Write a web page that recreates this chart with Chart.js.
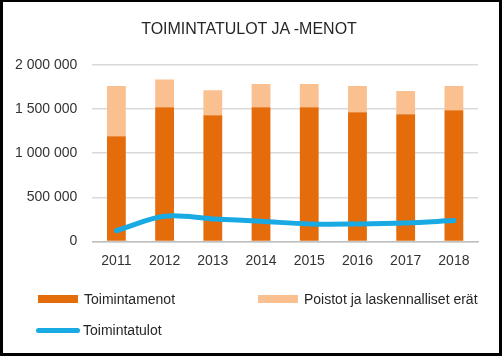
<!DOCTYPE html>
<html>
<head>
<meta charset="utf-8">
<script src="https://cdn.jsdelivr.net/npm/chart.js@4.4.1/dist/chart.umd.min.js"></script>
<style>
  html, body { margin: 0; padding: 0; background: #fff; }
  #wrap { position: relative; width: 502px; height: 356px; overflow: hidden; font-family: "Liberation Sans", Arial, sans-serif; }
  #c { position: absolute; left: 0; top: 0; }
  #frame { position: absolute; left: 0; top: 0; width: 502px; height: 356px; box-sizing: border-box;
           border-left: 3px solid #000; border-top: 2px solid #000; border-right: 3px solid #000; border-bottom: 3px solid #000; pointer-events: none; }
  #title { position: absolute; left: 149px; width: 200px; top: 20px; text-align: center; font-size: 16px; line-height: 18px; color: #262626; white-space: nowrap; display: flex; justify-content: center; }
  .lg { position: absolute; font-size: 14px; color: #262626; white-space: nowrap; line-height: 16px; }
  .sw { position: absolute; }
</style>
</head>
<body>
<div id="wrap">
  <canvas id="c" width="502" height="356"></canvas>
  <div id="title"></div>
  <div id="legend"></div>
  <div id="frame"></div>
</div>
<script>
const categories = ["2011", "2012", "2013", "2014", "2015", "2016", "2017", "2018"];
const toimintamenot = [1192000, 1522000, 1431000, 1522000, 1522000, 1465000, 1442000, 1488000];
const poistot = [569000, 315000, 284000, 262000, 262000, 296000, 262000, 273000];
const toimintatulot = [122000, 285000, 255000, 228000, 198000, 198000, 209000, 236000];
const yTicks = [0, 500000, 1000000, 1500000, 2000000];
const seriesNames = ["Toimintamenot", "Poistot ja laskennalliset erät", "Toimintatulot"];
const titleText = "TOIMINTATULOT JA -MENOT";

const colMenot = "#E46C0A";
const colPoistot = "#FAC090";
const colTulot = "#19A9E3";

document.getElementById("title").textContent = titleText;

function fmt(v) {
  return String(v).replace(/\B(?=(\d{3})+(?!\d))/g, " ");
}

const ctx = document.getElementById("c").getContext("2d");
new Chart(ctx, {
  data: {
    labels: categories,
    datasets: [
      { type: "line", label: seriesNames[2], data: toimintatulot, borderColor: colTulot, backgroundColor: colTulot,
        borderWidth: 5, pointRadius: 0, tension: 0.35, stack: "line", order: 0, borderCapStyle: "round", fill: false },
      { type: "bar", label: seriesNames[0], data: toimintamenot, backgroundColor: colMenot, stack: "bars", order: 1,
        barPercentage: 0.39, categoryPercentage: 1 },
      { type: "bar", label: seriesNames[1], data: poistot, backgroundColor: colPoistot, stack: "bars", order: 1,
        barPercentage: 0.39, categoryPercentage: 1 }
    ]
  },
  options: {
    responsive: false,
    animation: false,
    devicePixelRatio: 1,
    layout: { padding: { left: 0, right: 24, top: 65, bottom: 75.8 } },
    plugins: {
      legend: { display: false },
      tooltip: { enabled: false },
      title: { display: false }
    },
    scales: {
      x: {
        stacked: true,
        grid: { display: false, drawTicks: false },
        border: { display: true, color: "#BFBFBF", width: 1.5 },
        ticks: { color: "#333", padding: 11, font: { family: "'Liberation Sans', Arial, sans-serif", size: 14 } }
      },
      y: {
        stacked: true,
        min: 0, max: 2000000,
        afterBuildTicks: (axis) => { axis.ticks = yTicks.map(v => ({ value: v })); },
        grid: { color: "#D9D9D9", lineWidth: 1.5, drawTicks: false },
        border: { display: false },
        ticks: { color: "#333", padding: 15, callback: (v) => fmt(v),
                 font: { family: "'Liberation Sans', Arial, sans-serif", size: 14 } }
      }
    }
  }
});

// HTML legend
const lg = document.getElementById("legend");
function addItem(x, y, name, color, kind) {
  const sw = document.createElement("div");
  sw.className = "sw";
  if (kind === "bar") {
    sw.style.cssText = `left:${x}px;top:${y - 4}px;width:40px;height:8px;background:${color};`;
  } else {
    sw.style.cssText = `left:${x - 1}px;top:${y - 2.5}px;width:44px;height:5px;border-radius:3px;background:${color};`;
  }
  lg.appendChild(sw);
  const t = document.createElement("div");
  t.className = "lg";
  t.style.left = (x + 46) + "px";
  t.style.top = (y - 8) + "px";
  t.textContent = name;
  lg.appendChild(t);
}
addItem(38, 299, seriesNames[0], colMenot, "bar");
addItem(258, 299, seriesNames[1], colPoistot, "bar");
addItem(37, 330, seriesNames[2], colTulot, "line");
</script>
</body>
</html>
